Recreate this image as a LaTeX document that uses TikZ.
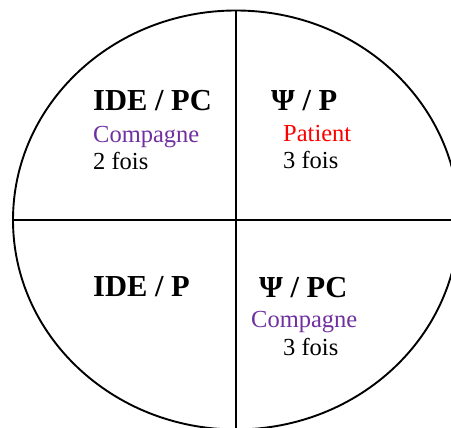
\documentclass[tikz,border=0pt]{standalone}
\usepackage{fontspec}
\setmainfont{Liberation Serif}
\definecolor{purp}{HTML}{7030A0}
\definecolor{redtxt}{HTML}{FF0000}
\begin{document}
\begin{tikzpicture}[x=1pt,y=1pt,
  ring/.style={line width=1.9pt},
  axis/.style={line width=2.1pt},
  head/.style={anchor=base west, inner sep=0pt, font=\fontsize{30.5}{36}\selectfont\bfseries},
  body/.style={anchor=base west, inner sep=0pt, font=\fontsize{24.5}{29}\selectfont}]
\useasboundingbox (0,0) rectangle (451,428);
\clip (0,0) rectangle (451,428);
\coordinate (c) at (236,208);
\draw[ring] (c) ellipse [x radius=223, y radius=209.5];
\coordinate (top) at (236,417.5);
\coordinate (bot) at (236,-5);
\coordinate (left) at (13,208);
\coordinate (right) at (460,208);
\draw[axis] (top) -- (bot);
\draw[axis] (left) -- (right);
\node[head] (h1) at (93,317) {IDE / PC};
\node[body, text=purp] (b1) at (93,285) {Compagne};
\node[body] (b2) at (93,258) {2 fois};
\node[head] (h2) at (271,317) {Ψ / P};
\node[body, text=redtxt] (b3) at (283,286) {Patient};
\node[body] (b4) at (283,259) {3 fois};
\node[head] (h3) at (93,131) {IDE / P};
\node[head] (h4) at (259,130) {Ψ / PC};
\node[body, text=purp] (b5) at (251,100) {Compagne};
\node[body] (b6) at (283,72) {3 fois};
\end{tikzpicture}
\end{document}
